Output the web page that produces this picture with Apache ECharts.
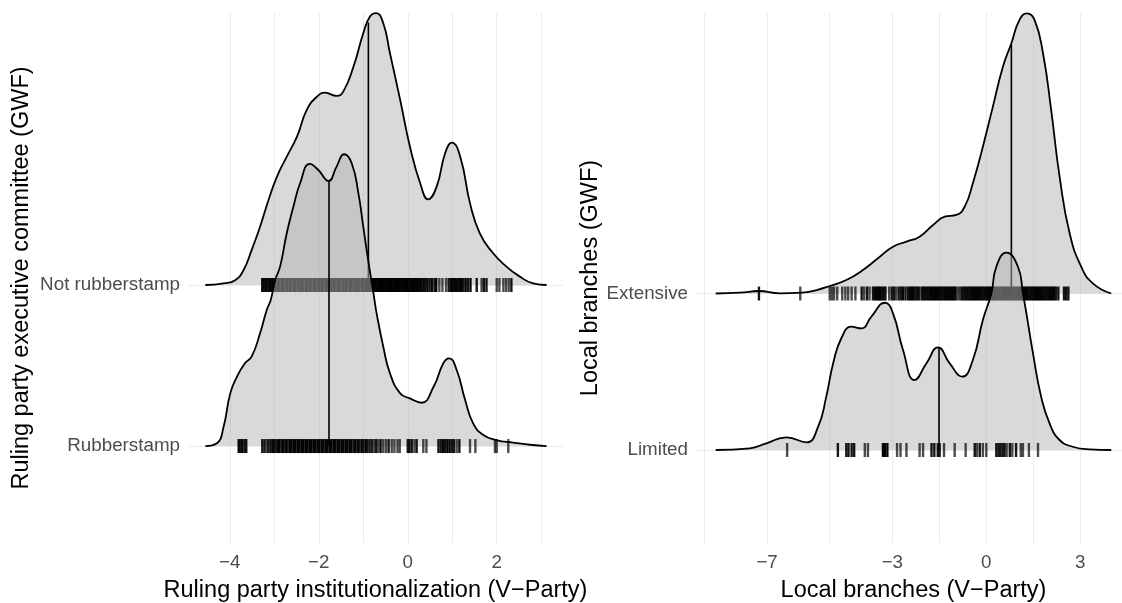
<!DOCTYPE html>
<html>
<head>
<meta charset="utf-8">
<script src="https://cdn.jsdelivr.net/npm/echarts@6/dist/echarts.min.js"></script>
<style>html,body{margin:0;padding:0;background:#fff}#c{width:1122px;height:603px}</style>
</head>
<body>
<div id="c"></div>
<script>
// ---------- Left panel data ----------
const leftCats = ['Rubberstamp', 'Not rubberstamp'];
const leftXTicks = [-4, -2, 0, 2];
const leftXGrid = [-4, -3, -2, -1, 0, 1, 2, 3];
const leftXTitle = 'Ruling party institutionalization (V\u2212Party)';
const leftYTitle = 'Ruling party executive committee (GWF)';
// density ridges: [x, height]
const notRubberDensity = [[-4.55,0],[-4.14,0.01],[-3.88,0.03],[-3.69,0.093],[-3.51,0.217],[-3.32,0.362],[-3.13,0.528],[-2.94,0.673],[-2.72,0.797],[-2.49,0.921],[-2.27,1.087],[-2.04,1.17],[-1.86,1.194],[-1.6,1.174],[-1.45,1.201],[-1.22,1.356],[-1.0,1.563],[-0.85,1.667],[-0.71,1.688],[-0.55,1.625],[-0.4,1.439],[-0.17,1.149],[0.05,0.859],[0.28,0.632],[0.46,0.532],[0.65,0.611],[0.84,0.818],[0.99,0.884],[1.18,0.797],[1.4,0.507],[1.62,0.321],[1.92,0.197],[2.22,0.114],[2.52,0.052],[2.82,0.01],[3.12,0]];
const rubberDensity = [[-4.55,0],[-4.29,0.017],[-4.14,0.12],[-3.99,0.327],[-3.84,0.43],[-3.66,0.514],[-3.51,0.555],[-3.32,0.70],[-3.17,0.845],[-3.08,0.907],[-2.98,1.031],[-2.87,1.114],[-2.72,1.321],[-2.57,1.487],[-2.42,1.632],[-2.2,1.752],[-2.01,1.714],[-1.78,1.646],[-1.6,1.735],[-1.43,1.812],[-1.26,1.756],[-1.11,1.57],[-1.0,1.362],[-0.89,1.155],[-0.77,0.948],[-0.7,0.824],[-0.55,0.617],[-0.4,0.452],[-0.17,0.327],[0.05,0.296],[0.31,0.269],[0.58,0.368],[0.8,0.514],[0.93,0.545],[1.1,0.472],[1.29,0.286],[1.47,0.141],[1.7,0.068],[1.99,0.037],[2.37,0.021],[2.75,0.008],[3.12,0]];
// medians [x, height of ridge there]
const leftMedians = [[-1.77, 1.646], [-0.885, 1.63]];
// rug observations [x, count]
const notRubberRug = [[-3.27,3],[-3.23,2],[-3.19,3],[-3.14,2],[-3.1,3],[-3.05,3],[-3.01,2],[-2.97,3],[-2.92,3],[-2.88,2],[-2.83,3],[-2.79,3],[-2.74,2],[-2.7,3],[-2.65,3],[-2.61,2],[-2.56,3],[-2.52,3],[-2.47,2],[-2.43,3],[-2.38,3],[-2.34,2],[-2.29,3],[-2.25,3],[-2.2,3],[-2.16,2],[-2.11,3],[-2.07,3],[-2.02,2],[-1.98,3],[-1.93,3],[-1.89,2],[-1.84,3],[-1.8,3],[-1.75,2],[-1.71,3],[-1.66,3],[-1.62,2],[-1.57,3],[-1.53,3],[-1.48,2],[-1.44,3],[-1.39,3],[-1.35,2],[-1.3,3],[-1.26,3],[-1.21,2],[-1.17,3],[-1.12,3],[-1.08,2],[-1.03,3],[-0.99,3],[-0.94,3],[-0.9,3],[-0.86,4],[-0.82,4],[-0.78,4],[-0.74,4],[-0.7,4],[-0.66,4],[-0.62,4],[-0.58,4],[-0.54,4],[-0.5,4],[-0.46,4],[-0.42,4],[-0.38,4],[-0.34,4],[-0.3,4],[-0.26,4],[-0.22,4],[-0.18,4],[-0.14,3],[-0.1,4],[-0.06,3],[-0.02,4],[0.02,3],[0.06,4],[0.1,3],[0.14,4],[0.18,3],[0.22,4],[0.26,3],[0.3,3],[0.35,3],[0.39,2],[0.44,3],[0.49,2],[0.54,3],[0.6,2],[0.64,3],[0.71,1],[0.78,1],[0.86,1],[0.92,2],[0.97,3],[1.01,3],[1.05,3],[1.09,3],[1.13,2],[1.17,3],[1.21,3],[1.25,2],[1.3,3],[1.35,2],[1.41,3],[1.55,2],[1.66,1],[1.71,2],[1.77,2],[2.0,1],[2.06,1],[2.15,1],[2.21,1],[2.27,1],[2.33,2]];
const rubberRug = [[-3.8,3],[-3.76,2],[-3.72,3],[-3.67,2],[-3.63,2],[-3.27,2],[-3.22,2],[-3.17,1],[-3.13,2],[-3.08,2],[-3.03,3],[-2.98,2],[-2.93,3],[-2.89,3],[-2.84,2],[-2.8,3],[-2.75,3],[-2.71,2],[-2.66,3],[-2.62,3],[-2.57,3],[-2.53,3],[-2.48,3],[-2.44,3],[-2.39,3],[-2.35,3],[-2.3,3],[-2.26,3],[-2.21,3],[-2.17,3],[-2.12,3],[-2.08,3],[-2.03,3],[-1.99,3],[-1.94,3],[-1.9,3],[-1.85,3],[-1.81,3],[-1.76,3],[-1.72,3],[-1.67,3],[-1.63,3],[-1.58,3],[-1.54,3],[-1.49,3],[-1.45,3],[-1.4,3],[-1.36,3],[-1.31,3],[-1.27,3],[-1.22,2],[-1.18,3],[-1.13,3],[-1.09,2],[-1.04,3],[-1.0,2],[-0.95,3],[-0.91,2],[-0.86,2],[-0.81,2],[-0.76,1],[-0.71,2],[-0.66,1],[-0.61,2],[-0.55,1],[-0.49,1],[-0.43,2],[-0.36,1],[-0.3,1],[-0.23,1],[-0.18,1],[0.0,2],[0.04,2],[0.09,2],[0.15,1],[0.2,2],[0.35,1],[0.42,1],[0.69,2],[0.74,2],[0.79,3],[0.84,2],[0.89,3],[0.94,3],[0.99,2],[1.04,2],[1.1,1],[1.16,2],[1.4,1],[1.52,1],[1.96,1],[2.0,1],[2.26,1]];

// ---------- Right panel data ----------
const rightCats = ['Limited', 'Extensive'];
const rightXTicks = [-7, -3, 0, 3];
const rightXGrid = [-9, -7, -5, -3, -1.5, 0, 1.5, 3];
const rightXTitle = 'Local branches (V\u2212Party)';
const rightYTitle = 'Local branches (GWF)';
const extensiveDensity = [[-8.64,0],[-7.87,0.005],[-7.26,0.016],[-6.6,0.001],[-5.9,0.005],[-5.42,0.022],[-5.0,0.048],[-4.47,0.086],[-3.94,0.15],[-3.4,0.235],[-2.98,0.299],[-2.55,0.331],[-2.13,0.363],[-1.7,0.438],[-1.33,0.491],[-0.96,0.502],[-0.69,0.555],[-0.43,0.704],[-0.11,0.938],[0.21,1.194],[0.53,1.449],[0.8,1.599],[1.06,1.748],[1.3,1.79],[1.54,1.748],[1.81,1.535],[2.07,1.173],[2.34,0.746],[2.66,0.385],[3.03,0.171],[3.4,0.065],[3.99,0]];
const limitedDensity = [[-8.64,0],[-7.55,0.011],[-7.02,0.043],[-6.38,0.081],[-5.74,0.049],[-5.37,0.149],[-5.11,0.341],[-4.89,0.554],[-4.63,0.714],[-4.31,0.788],[-3.99,0.777],[-3.67,0.852],[-3.24,0.941],[-2.98,0.873],[-2.66,0.639],[-2.29,0.447],[-1.91,0.554],[-1.54,0.656],[-1.17,0.554],[-0.77,0.469],[-0.43,0.575],[-0.11,0.831],[0.16,1.0],[0.32,1.171],[0.64,1.261],[1.01,1.171],[1.17,1.0],[1.28,0.873],[1.49,0.618],[1.75,0.341],[2.02,0.17],[2.34,0.064],[2.76,0.021],[3.3,0.004],[3.99,0]];
const rightMedians = [[-1.51, 0.656], [0.80, 1.59]];
const extensiveRug = [[-7.26,2],[-5.94,1],[-5.0,1],[-4.93,1],[-4.86,1],[-4.76,1],[-4.6,1],[-4.5,1],[-4.41,1],[-4.3,1],[-4.18,1],[-3.98,2],[-3.9,1],[-3.81,2],[-3.73,1],[-3.62,2],[-3.56,3],[-3.5,3],[-3.45,3],[-3.4,3],[-3.34,2],[-3.28,3],[-3.22,2],[-3.1,1],[-3.02,2],[-2.95,2],[-2.88,1],[-2.8,2],[-2.73,2],[-2.66,3],[-2.58,2],[-2.5,2],[-2.44,3],[-2.38,3],[-2.32,3],[-2.26,2],[-2.2,3],[-2.14,2],[-2.06,2],[-2.0,3],[-1.94,3],[-1.88,3],[-1.82,3],[-1.76,3],[-1.7,3],[-1.64,3],[-1.58,3],[-1.52,3],[-1.46,3],[-1.4,3],[-1.34,3],[-1.28,3],[-1.22,3],[-1.16,3],[-1.1,3],[-1.04,3],[-0.98,3],[-0.9,1],[-0.84,1],[-0.78,2],[-0.72,2],[-0.66,3],[-0.6,3],[-0.54,3],[-0.48,3],[-0.42,3],[-0.36,3],[-0.3,3],[-0.24,3],[-0.18,3],[-0.12,3],[-0.06,3],[0.0,3],[0.06,3],[0.12,3],[0.18,3],[0.24,3],[0.3,3],[0.36,3],[0.42,3],[0.48,3],[0.54,3],[0.6,3],[0.66,3],[0.72,3],[0.78,3],[0.84,3],[0.9,3],[0.96,3],[1.02,3],[1.08,3],[1.14,3],[1.2,3],[1.26,3],[1.32,3],[1.38,3],[1.44,3],[1.5,3],[1.56,3],[1.62,3],[1.68,3],[1.74,3],[1.8,3],[1.86,3],[1.92,3],[1.98,3],[2.04,3],[2.1,3],[2.16,3],[2.22,2],[2.3,2],[2.48,2],[2.55,2],[2.62,2]];
const limitedRug = [[-6.36,1],[-4.74,2],[-4.47,2],[-4.4,2],[-4.3,2],[-4.22,2],[-3.88,1],[-3.78,1],[-3.3,3],[-3.24,3],[-3.16,3],[-2.85,1],[-2.74,1],[-2.55,1],[-2.13,1],[-2.02,1],[-1.75,2],[-1.66,2],[-1.55,2],[-1.49,2],[-1.35,1],[-1.01,1],[-0.66,1],[-0.37,2],[-0.3,1],[-0.21,2],[-0.11,1],[0.0,1],[0.32,2],[0.39,2],[0.45,2],[0.52,2],[0.58,2],[0.65,1],[0.75,2],[0.83,1],[0.95,2],[1.1,1],[1.17,1],[1.36,1],[1.65,1]];

// ---------- Styling ----------
const FONT = '"Liberation Sans", Arial, Helvetica, sans-serif';
const FILL = 'rgba(179,179,179,0.5)';
const GRIDC = '#ebebeb';
const fmtMinus = v => (v < 0 ? '\u2212' + Math.abs(v) : String(v));

function ridgeSeries(g, dens, rug, med, base, z) {
  return [
    { type: 'line', xAxisIndex: g, yAxisIndex: g, z: z, silent: true,
      data: dens.map(d => [d[0], base + d[1]]),
      smooth: 0.5, symbol: 'none',
      lineStyle: { color: '#000', width: 1.8 },
      areaStyle: { color: FILL, origin: base, opacity: 1 } },
    { type: 'scatter', xAxisIndex: g, yAxisIndex: g, z: z + 1, silent: true,
      symbol: 'rect', symbolSize: [2.4, 14],
      data: rug.map(r => ({ value: [r[0], base], itemStyle: { color: '#000', opacity: 1 - Math.pow(0.3, r[1]) } })) },
    { type: 'line', xAxisIndex: g, yAxisIndex: g, z: z + 2, silent: true,
      data: [[med[0], base], [med[0], base + med[1]]], symbol: 'none',
      lineStyle: { color: '#000', width: 1.6 } }
  ];
}

function xAxisCfg(g, min, max, grid, ticks, title) {
  return { gridIndex: g, type: 'value', min: min, max: max,
    axisLine: { show: false }, axisTick: { show: false, customValues: grid },
    axisLabel: { customValues: ticks, formatter: fmtMinus, color: '#4d4d4d', fontSize: 18.8, fontFamily: FONT, margin: 10 },
    splitLine: { show: true, lineStyle: { color: GRIDC, width: 1 } },
    name: title, nameLocation: 'middle', nameGap: 36,
    nameTextStyle: { color: '#000', fontSize: 23.5, fontFamily: FONT } };
}
function yAxisCfg(g, min, max, cats, title, gap) {
  return { gridIndex: g, type: 'value', min: min, max: max,
    axisLine: { show: false }, axisTick: { show: false, customValues: [1, 2] },
    axisLabel: { customValues: [1, 2], formatter: v => cats[Math.round(v) - 1], color: '#4d4d4d', fontSize: 18.8, fontFamily: FONT, margin: 8 },
    splitLine: { show: true, lineStyle: { color: GRIDC, width: 1 } },
    name: title, nameLocation: 'middle', nameGap: gap,
    nameTextStyle: { color: '#000', fontSize: 23.5, fontFamily: FONT } };
}

const chart = echarts.init(document.getElementById('c'), null, { renderer: 'canvas' });
chart.setOption({
  animation: false,
  backgroundColor: '#fff',
  grid: [
    { left: 188, top: 13, width: 375, height: 530, outerBoundsMode: 'none' },
    { left: 696, top: 13, width: 435, height: 530, outerBoundsMode: 'none' }
  ],
  xAxis: [
    xAxisCfg(0, -4.94, 3.49, leftXGrid, leftXTicks, leftXTitle),
    xAxisCfg(1, -9.27, 4.62, rightXGrid, rightXTicks, rightXTitle)
  ],
  yAxis: [
    yAxisCfg(0, 0.398, 3.689, leftCats, leftYTitle, 154),
    yAxisCfg(1, 0.406, 3.792, rightCats, rightYTitle, 92)
  ],
  series: [].concat(
    ridgeSeries(0, notRubberDensity, notRubberRug, leftMedians[1], 2, 2),
    ridgeSeries(0, rubberDensity, rubberRug, leftMedians[0], 1, 6),
    ridgeSeries(1, extensiveDensity, extensiveRug, rightMedians[1], 2, 2),
    ridgeSeries(1, limitedDensity, limitedRug, rightMedians[0], 1, 6)
  )
});
</script>
</body>
</html>
